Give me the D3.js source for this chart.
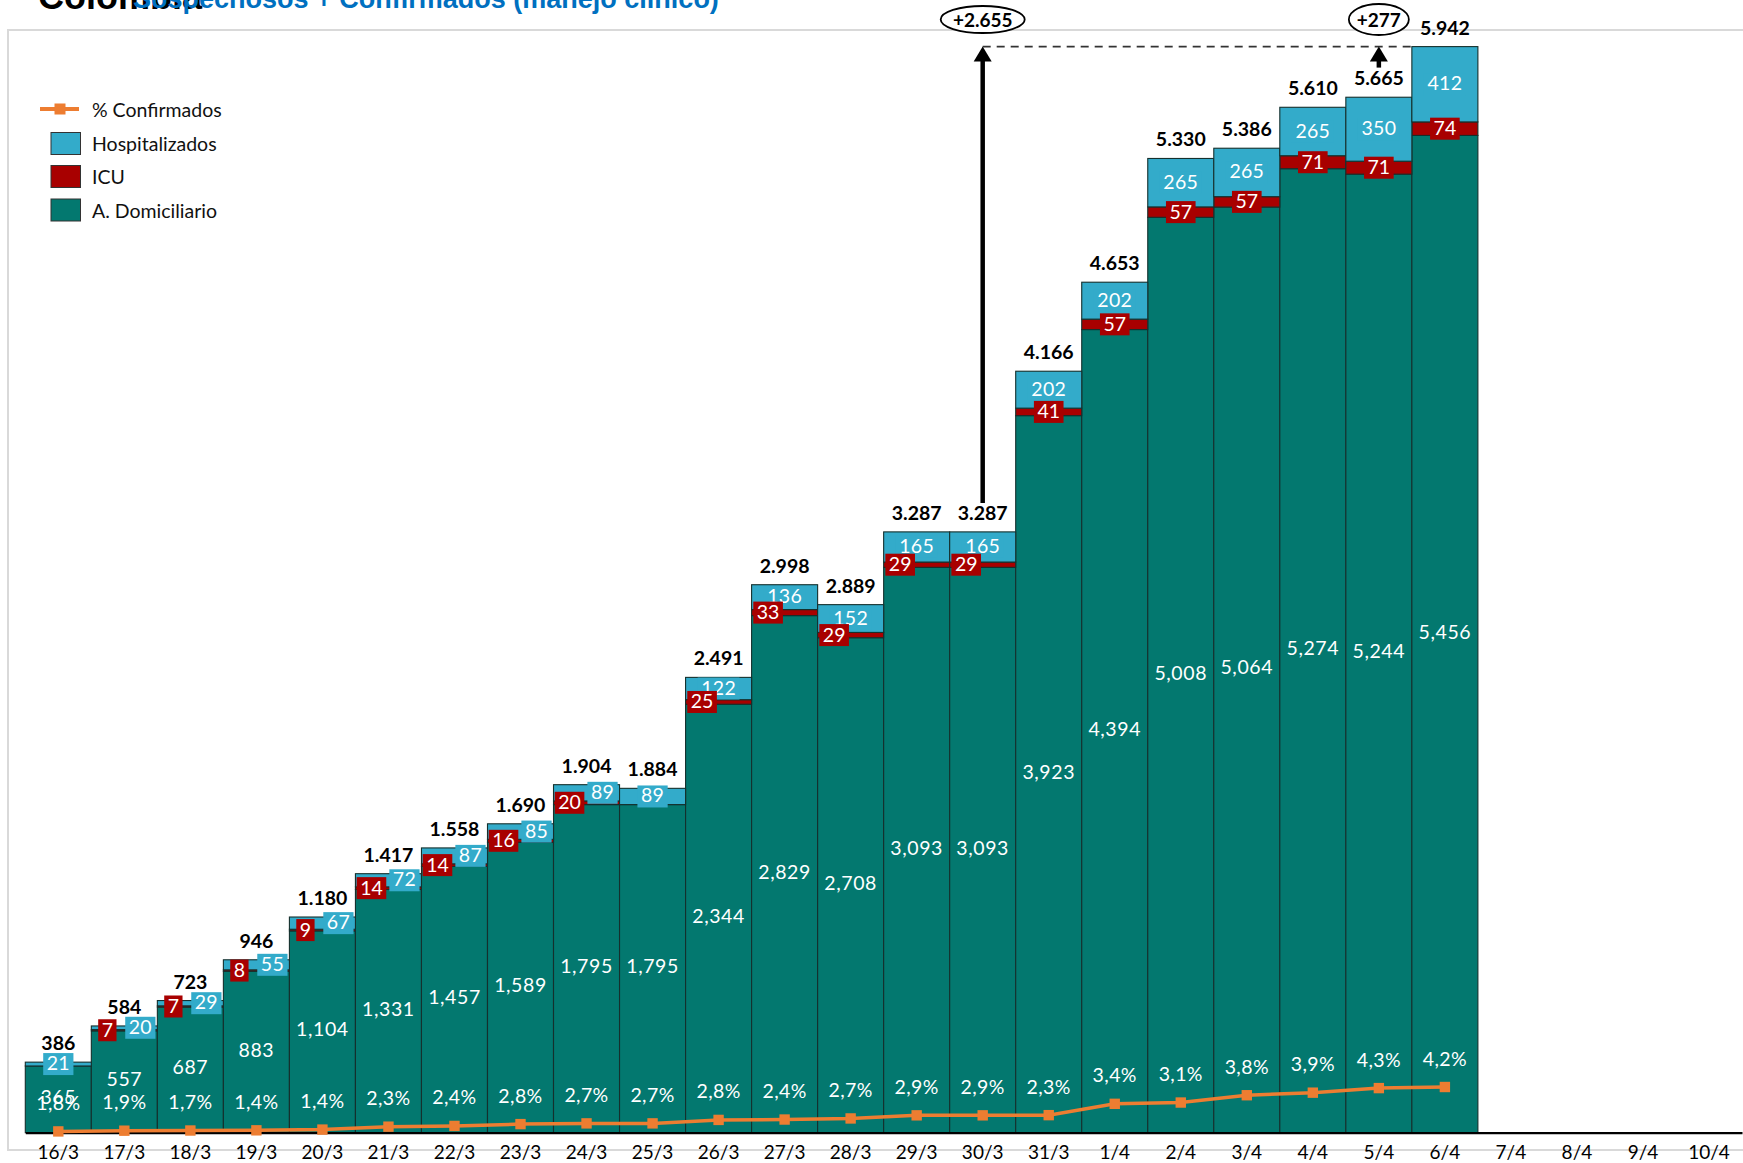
<!DOCTYPE html>
<html>
<head>
<meta charset="utf-8">
<script src="https://cdn.jsdelivr.net/npm/d3@7/dist/d3.min.js"></script>
<style>
  html, body { margin: 0; padding: 0; background: #fff; }
  svg { display: block; }
</style>
</head>
<body>
<svg id="chart" width="1743" height="1163"></svg>
<script>
// ---------------- DATA ----------------
const categories = ["16/3","17/3","18/3","19/3","20/3","21/3","22/3","23/3","24/3","25/3","26/3","27/3","28/3","29/3","30/3","31/3","1/4","2/4","3/4","4/4","5/4","6/4","7/4","8/4","9/4","10/4"];
const domiciliario = [365,557,687,883,1104,1331,1457,1589,1795,1795,2344,2829,2708,3093,3093,3923,4394,5008,5064,5274,5244,5456];
const icu = [0,7,7,8,9,14,14,16,20,0,25,33,29,29,29,41,57,57,57,71,71,74];
const hospitalizados = [21,20,29,55,67,72,87,85,89,89,122,136,152,165,165,202,202,265,265,265,350,412];
const totals = ["386","584","723","946","1.180","1.417","1.558","1.690","1.904","1.884","2.491","2.998","2.889","3.287","3.287","4.166","4.653","5.330","5.386","5.610","5.665","5.942"];
// % confirmados: the line sits on the count axis (confirmed patients), labels show the percentage
const confirmados = [7,11,12,13,17,33,37,47,51,51,70,72,78,95,95,96,158,165,205,219,244,250];
const pctLabels = ["1,8%","1,9%","1,7%","1,4%","1,4%","2,3%","2,4%","2,8%","2,7%","2,7%","2,8%","2,4%","2,7%","2,9%","2,9%","2,3%","3,4%","3,1%","3,8%","3,9%","4,3%","4,2%"];
const yMax = 6000;
const legendItems = ["% Confirmados","Hospitalizados","ICU","A. Domiciliario"];
const titleMain = "Colombia";
const titleSub = "Sospechosos + Confirmados (manejo clínico)";
const annotations = [
  { label: "+2.655", from: "30/3" },
  { label: "+277", from: "5/4" }
];

// ---------------- STYLE ----------------
const C_DOM = "#03786F";
const C_ICU = "#A80000";
const C_HOSP = "#33ABCA";
const C_LINE = "#ED7D31";
const C_EDGE = "#15302d";
const FONT = "Lato, 'Open Sans', sans-serif";

const svg = d3.select("#chart");

// frame
svg.append("rect").attr("x", 8).attr("y", 30).attr("width", 1780).attr("height", 1120)
  .attr("fill", "none").attr("stroke", "#d9d9d9").attr("stroke-width", 2);

// titles (cut at top as in reference)
svg.append("text").attr("x", 38).attr("y", 9).text(titleMain)
  .attr("font-family", "'Liberation Sans', Arial, sans-serif").attr("font-weight", "bold")
  .attr("font-size", 36).attr("fill", "#000");
svg.append("text").attr("x", 133).attr("y", 8).text(titleSub)
  .attr("font-family", "'Liberation Sans', Arial, sans-serif").attr("font-weight", "bold")
  .attr("font-size", 27).attr("fill", "#0070C0");

// scales
const x = d3.scaleBand().domain(categories).range([25.3, 1742]).padding(0);
const y = d3.scaleLinear().domain([0, yMax]).range([1132.7, 36]);

const rows = domiciliario.map((d, i) => ({
  cat: categories[i], dom: d, icu: icu[i], hosp: hospitalizados[i],
  total: totals[i], conf: confirmados[i], pct: pctLabels[i]
}));
const keys = ["dom", "icu", "hosp"];
const colors = { dom: C_DOM, icu: C_ICU, hosp: C_HOSP };
const stacked = d3.stack().keys(keys)(rows);

const gBars = svg.append("g");
stacked.forEach(layer => {
  gBars.append("g").selectAll("rect").data(layer).join("rect")
    .attr("x", d => x(d.data.cat))
    .attr("width", x.bandwidth())
    .attr("y", d => y(d[1]))
    .attr("height", d => Math.max(0, y(d[0]) - y(d[1])))
    .attr("fill", colors[layer.key])
    .attr("stroke", C_EDGE)
    .attr("stroke-width", 1.1);
});

// x axis
const axis = d3.axisBottom(x).tickSize(0).tickPadding(13);
const gAx = svg.append("g").attr("transform", "translate(0,1132.7)").call(axis);
gAx.select(".domain").attr("stroke", "#000").attr("stroke-width", 2.2);
gAx.selectAll("text").attr("font-family", FONT).attr("font-size", 19).attr("fill", "#000");

// line % confirmados
const cx = d => x(d.cat) + x.bandwidth() / 2;
svg.append("path").datum(rows)
  .attr("d", d3.line().x(cx).y(d => y(d.conf)))
  .attr("fill", "none").attr("stroke", C_LINE).attr("stroke-width", 3.5);
svg.append("g").selectAll("rect").data(rows).join("rect")
  .attr("x", d => cx(d) - 5.2).attr("y", d => y(d.conf) - 5.2)
  .attr("width", 10.4).attr("height", 10.4).attr("fill", C_LINE);

// labels
const gLab = svg.append("g").attr("font-family", FONT);

// domiciliario labels
gLab.selectAll("text.dom").data(rows).join("text").attr("class", "dom")
  .attr("x", cx).attr("y", d => (y(0) + y(d.dom)) / 2 - 3)
  .attr("text-anchor", "middle").attr("dominant-baseline", "central")
  .attr("font-size", 19.5).attr("letter-spacing", 0.6).attr("fill", "#fff")
  .text(d => d3.format(",")(d.dom));

// pct labels
gLab.selectAll("text.pct").data(rows).join("text").attr("class", "pct")
  .attr("x", cx).attr("y", d => y(d.conf) - 29)
  .attr("text-anchor", "middle").attr("dominant-baseline", "central")
  .attr("font-size", 19.5).attr("letter-spacing", 0.4).attr("fill", "#fff")
  .text(d => d.pct);

// layout of the small labels (ICU / Hosp) to avoid overlaps
rows.forEach(d => {
  const icuC = (y(d.dom) + y(d.dom + d.icu)) / 2;
  const hospC = (y(d.dom + d.icu) + y(d.dom + d.icu + d.hosp)) / 2;
  const dist = icuC - hospC;
  d.icuY = icuC; d.hospY = hospC;
  d.icuDx = 0; d.hospDx = 0;
  if (d.icu > 0) {
    if (dist < 12) { d.icuDx = -17; d.hospDx = 16; }
    else if (dist < 20) { d.icuDx = -16.5; }
  }
});

function boxLabel(sel, fill) {
  sel.each(function(d) {
    const g = d3.select(this);
    const t = g.select("text");
    const w = t.node().getComputedTextLength() + 7;
    g.insert("rect", "text").attr("x", -w / 2).attr("y", -11).attr("width", w).attr("height", 22)
      .attr("fill", fill);
  });
}

const hospG = gLab.selectAll("g.hosp").data(rows).join("g").attr("class", "hosp")
  .attr("transform", d => `translate(${cx(d) + d.hospDx},${d.hospY})`);
hospG.append("text").attr("y", -1.5).attr("text-anchor", "middle").attr("dominant-baseline", "central")
  .attr("font-size", 19.5).attr("letter-spacing", 0.3).attr("fill", "#fff").text(d => d.hosp);
boxLabel(hospG, C_HOSP);

const icuG = gLab.selectAll("g.icu").data(rows.filter(d => d.icu > 0)).join("g").attr("class", "icu")
  .attr("transform", d => `translate(${cx(d) + d.icuDx},${d.icuY})`);
icuG.append("text").attr("y", -1).attr("text-anchor", "middle").attr("dominant-baseline", "central")
  .attr("font-size", 19.5).attr("fill", "#fff").text(d => d.icu);
boxLabel(icuG, C_ICU);

// totals
gLab.selectAll("text.tot").data(rows).join("text").attr("class", "tot")
  .attr("x", cx).attr("y", d => y(d.dom + d.icu + d.hosp) - 12)
  .attr("text-anchor", "middle").attr("font-weight", "bold")
  .attr("font-size", 19.5).attr("fill", "#000").text(d => d.total);

// annotations: dashed reference line at the last bar top, arrows and ellipses
const lastRow = rows[rows.length - 1];
const topY = y(lastRow.dom + lastRow.icu + lastRow.hosp);
const a0 = rows.find(r => r.cat === annotations[0].from);
svg.append("line").attr("x1", cx(a0)).attr("x2", x(lastRow.cat)).attr("y1", topY).attr("y2", topY)
  .attr("stroke", "#333").attr("stroke-width", 1.6).attr("stroke-dasharray", "8,6");

annotations.forEach((a, i) => {
  const r = rows.find(rr => rr.cat === a.from);
  const ax = cx(r);
  const bottom = i === 0 ? y(r.dom + r.icu + r.hosp) - 29 : topY + 21;
  svg.append("line").attr("x1", ax).attr("x2", ax).attr("y1", bottom).attr("y2", topY + 12)
    .attr("stroke", "#000").attr("stroke-width", 4.5);
  svg.append("path")
    .attr("d", `M${ax},${topY} L${ax - 9},${topY + 15} L${ax + 9},${topY + 15} Z`)
    .attr("fill", "#000");
  const rx = i === 0 ? 42 : 30;
  const ry = i === 0 ? 13.5 : 15.5;
  svg.append("ellipse").attr("cx", ax).attr("cy", 19.5).attr("rx", rx).attr("ry", ry)
    .attr("fill", "#fff").attr("stroke", "#000").attr("stroke-width", 1.8);
  svg.append("text").attr("x", ax).attr("y", 19.5).attr("text-anchor", "middle")
    .attr("dominant-baseline", "central").attr("font-family", FONT).attr("font-weight", "bold")
    .attr("font-size", 19).attr("fill", "#000").text(a.label);
});

// legend
const lg = svg.append("g").attr("font-family", FONT);
const legendY = [109, 143.5, 176.5, 210];
lg.append("line").attr("x1", 40).attr("x2", 79).attr("y1", legendY[0]).attr("y2", legendY[0])
  .attr("stroke", C_LINE).attr("stroke-width", 4);
lg.append("rect").attr("x", 54.5).attr("y", legendY[0] - 5.5).attr("width", 11).attr("height", 11).attr("fill", C_LINE);
[C_HOSP, C_ICU, C_DOM].forEach((c, i) => {
  lg.append("rect").attr("x", 51).attr("y", legendY[i + 1] - 11).attr("width", 29.5).attr("height", 22)
    .attr("fill", c).attr("stroke", "#333").attr("stroke-width", 1);
});
legendItems.forEach((t, i) => {
  lg.append("text").attr("x", 92).attr("y", legendY[i]).attr("dominant-baseline", "central")
    .attr("font-size", 19.5).attr("fill", "#111").text(t);
});
</script>
</body>
</html>
